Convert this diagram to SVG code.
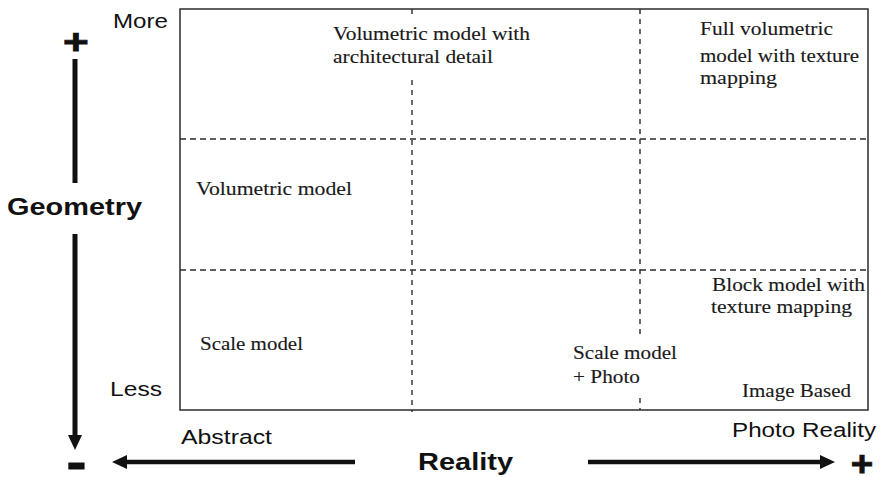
<svg xmlns="http://www.w3.org/2000/svg" width="881" height="477" viewBox="0 0 881 477">
  <style>
    .frame { fill: none; stroke: #2b2b2b; stroke-width: 1.5; }
    .hdash { fill: none; stroke: #2b2b2b; stroke-width: 1.4; stroke-dasharray: 6 4; }
    .vdash { fill: none; stroke: #2b2b2b; stroke-width: 1.4; stroke-dasharray: 5 5; }
    .axis { fill: none; stroke: #111; }
    .serif { font-family: "Liberation Serif", "Times New Roman", serif; font-size: 18px; fill: #1a1a1a; stroke: #1a1a1a; stroke-width: 0.12; }
    .sans { font-family: "Liberation Sans", Arial, sans-serif; font-size: 20.5px; fill: #111; }
    .bold { font-family: "Liberation Sans", Arial, sans-serif; font-size: 24.5px; font-weight: bold; fill: #111; }
    .sign { font-family: "Liberation Sans", Arial, sans-serif; font-weight: bold; fill: #111; stroke: #111; stroke-width: 0.8; }
  </style>
  <defs>
    <marker id="head" markerUnits="userSpaceOnUse" markerWidth="16" markerHeight="15" refX="5" refY="7" orient="auto">
      <path d="M0,0 L15,7 L0,14 z" fill="#111"/>
    </marker>
  </defs>
  <rect width="881" height="477" fill="#fff"/>

  <!-- chart frame and grid -->
  <g id="grid">
    <rect class="frame" x="180" y="9" width="688" height="401"/>
    <line class="hdash" x1="180" y1="139" x2="868" y2="139"/>
    <line class="hdash" x1="180" y1="270" x2="868" y2="270"/>
    <line class="vdash" x1="412" y1="9" x2="412" y2="14"/>
    <line class="vdash" x1="412" y1="80" x2="412" y2="412"/>
    <line class="vdash" x1="640" y1="9" x2="640" y2="334"/>
    <line class="vdash" x1="640" y1="398" x2="640" y2="410"/>
  </g>

  <!-- axes -->
  <g id="connectors">
    <line class="axis" stroke-width="5" x1="75" y1="59" x2="75" y2="183"/>
    <line class="axis" stroke-width="5" x1="75" y1="234" x2="75" y2="440" marker-end="url(#head)"/>
    <line class="axis" stroke-width="4.5" x1="355" y1="462" x2="122" y2="462" marker-end="url(#head)"/>
    <line class="axis" stroke-width="4.5" x1="588" y1="462" x2="825" y2="462" marker-end="url(#head)"/>
  </g>

  <!-- axis labels -->
  <g id="geometry-axis">
    <text class="sign" font-size="35" text-anchor="middle" transform="translate(76 53.5) scale(1.26 1)">+</text>
    <text class="bold" x="7" y="215" textLength="135" lengthAdjust="spacingAndGlyphs">Geometry</text>
    <text class="sign" font-size="50" text-anchor="middle" transform="translate(76.5 479) scale(1.2 1)">-</text>
    <text class="sans" x="113" y="28" textLength="55" lengthAdjust="spacingAndGlyphs">More</text>
    <text class="sans" x="110" y="396" textLength="52" lengthAdjust="spacingAndGlyphs">Less</text>
  </g>
  <g id="reality-axis">
    <text class="sans" x="181" y="444" textLength="91" lengthAdjust="spacingAndGlyphs">Abstract</text>
    <text class="sans" x="732" y="437" textLength="144" lengthAdjust="spacingAndGlyphs">Photo Reality</text>
    <text class="bold" x="418" y="470" textLength="95" lengthAdjust="spacingAndGlyphs">Reality</text>
    <text class="sign" font-size="35" text-anchor="middle" transform="translate(862 476) scale(1.1 1)">+</text>
  </g>

  <!-- cell labels -->
  <g id="volumetric-architectural">
    <text class="serif" x="333" y="40" textLength="197" lengthAdjust="spacingAndGlyphs">Volumetric model with</text>
    <text class="serif" x="333" y="63" textLength="160" lengthAdjust="spacingAndGlyphs">architectural detail</text>
  </g>
  <g id="full-volumetric">
    <text class="serif" x="700" y="35" textLength="133" lengthAdjust="spacingAndGlyphs">Full volumetric</text>
    <text class="serif" x="700" y="62" textLength="159" lengthAdjust="spacingAndGlyphs">model with texture</text>
    <text class="serif" x="700" y="84" textLength="77" lengthAdjust="spacingAndGlyphs">mapping</text>
  </g>
  <g id="volumetric-model">
    <text class="serif" x="196" y="195" textLength="156" lengthAdjust="spacingAndGlyphs">Volumetric model</text>
  </g>
  <g id="scale-model">
    <text class="serif" x="200" y="350" textLength="103" lengthAdjust="spacingAndGlyphs">Scale model</text>
  </g>
  <g id="block-model">
    <text class="serif" x="712" y="291" textLength="153" lengthAdjust="spacingAndGlyphs">Block model with</text>
    <text class="serif" x="711" y="313" textLength="141" lengthAdjust="spacingAndGlyphs">texture mapping</text>
  </g>
  <g id="scale-model-photo">
    <text class="serif" x="573" y="359" textLength="104" lengthAdjust="spacingAndGlyphs">Scale model</text>
    <text class="serif" x="573" y="383" textLength="67" lengthAdjust="spacingAndGlyphs">+ Photo</text>
  </g>
  <g id="image-based">
    <text class="serif" x="742" y="397" textLength="109" lengthAdjust="spacingAndGlyphs">Image Based</text>
  </g>
</svg>
